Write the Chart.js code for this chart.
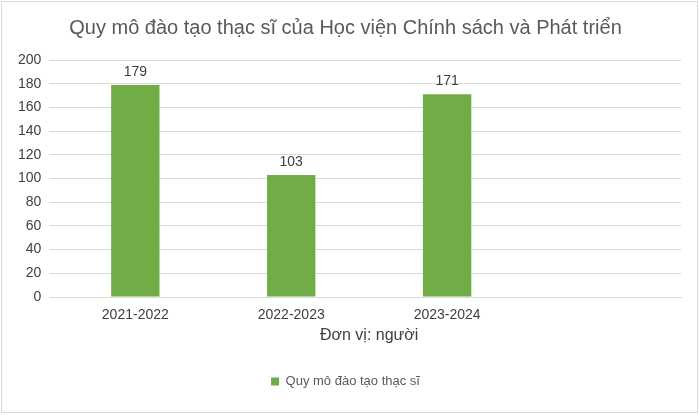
<!DOCTYPE html>
<html><head><meta charset="utf-8">
<script src="https://cdn.jsdelivr.net/npm/chart.js@4"></script>
<style>html,body{margin:0;padding:0;background:#fff}#w{position:absolute;left:1px;top:1px;width:697px;height:412px;border:1px solid #d9d9d9;box-sizing:border-box}</style>
</head><body><div id="w"><canvas id="c"></canvas></div>
<script>
const categories = ["2021-2022", "2022-2023", "2023-2024", ""];
const values = [179, 103, 171, null];
const yTicks = [0, 20, 40, 60, 80, 100, 120, 140, 160, 180, 200];
const seriesName = "Quy mô đào tạo thạc sĩ";
const labelPlugin = {id:'lbl', afterDatasetsDraw(ch){
  const ctx=ch.ctx; const meta=ch.getDatasetMeta(0);
  ctx.save(); ctx.font='14px "Liberation Sans", Arial'; ctx.fillStyle='#404040'; ctx.textAlign='center'; ctx.textBaseline='bottom';
  meta.data.forEach((b,i)=>{ if(values[i]!=null) ctx.fillText(values[i], b.x, b.y-6); });
  ctx.restore();
}};
new Chart(document.getElementById('c'), {
  type:'bar',
  data:{labels:categories, datasets:[{label:seriesName, data:values, backgroundColor:'#70AD47', barPercentage:0.31, categoryPercentage:1}]},
  options:{responsive:true, maintainAspectRatio:false, animation:false,
    layout:{padding:{left:8,right:16,top:6,bottom:14}},
    plugins:{
      title:{display:true, text:'Quy mô đào tạo thạc sĩ của Học viện Chính sách và Phát triển', color:'#595959', font:{family:'"Liberation Sans", Arial', size:20, weight:'normal'}, padding:{top:8,bottom:20}},
      legend:{position:'bottom', labels:{color:'#595959', boxWidth:8, boxHeight:8, font:{family:'"Liberation Sans", Arial', size:13}, padding:14}},
      tooltip:{enabled:false}
    },
    scales:{
      x:{grid:{display:false}, border:{color:'#d9d9d9'}, ticks:{color:'#404040', padding:2, font:{family:'"Liberation Sans", Arial', size:14}},
        title:{display:true, text:'Đơn vị: người', color:'#404040', font:{family:'"Liberation Sans", Arial', size:16}, padding:{top:0,bottom:16}}},
      y:{min:0, max:200, afterBuildTicks(s){s.ticks=yTicks.map(v=>({value:v}));}, grid:{color:'#d9d9d9'}, border:{display:false},
        ticks:{color:'#404040', font:{family:'"Liberation Sans", Arial', size:14}, padding:8}}
    }
  },
  plugins:[labelPlugin]
});
</script></body></html>
